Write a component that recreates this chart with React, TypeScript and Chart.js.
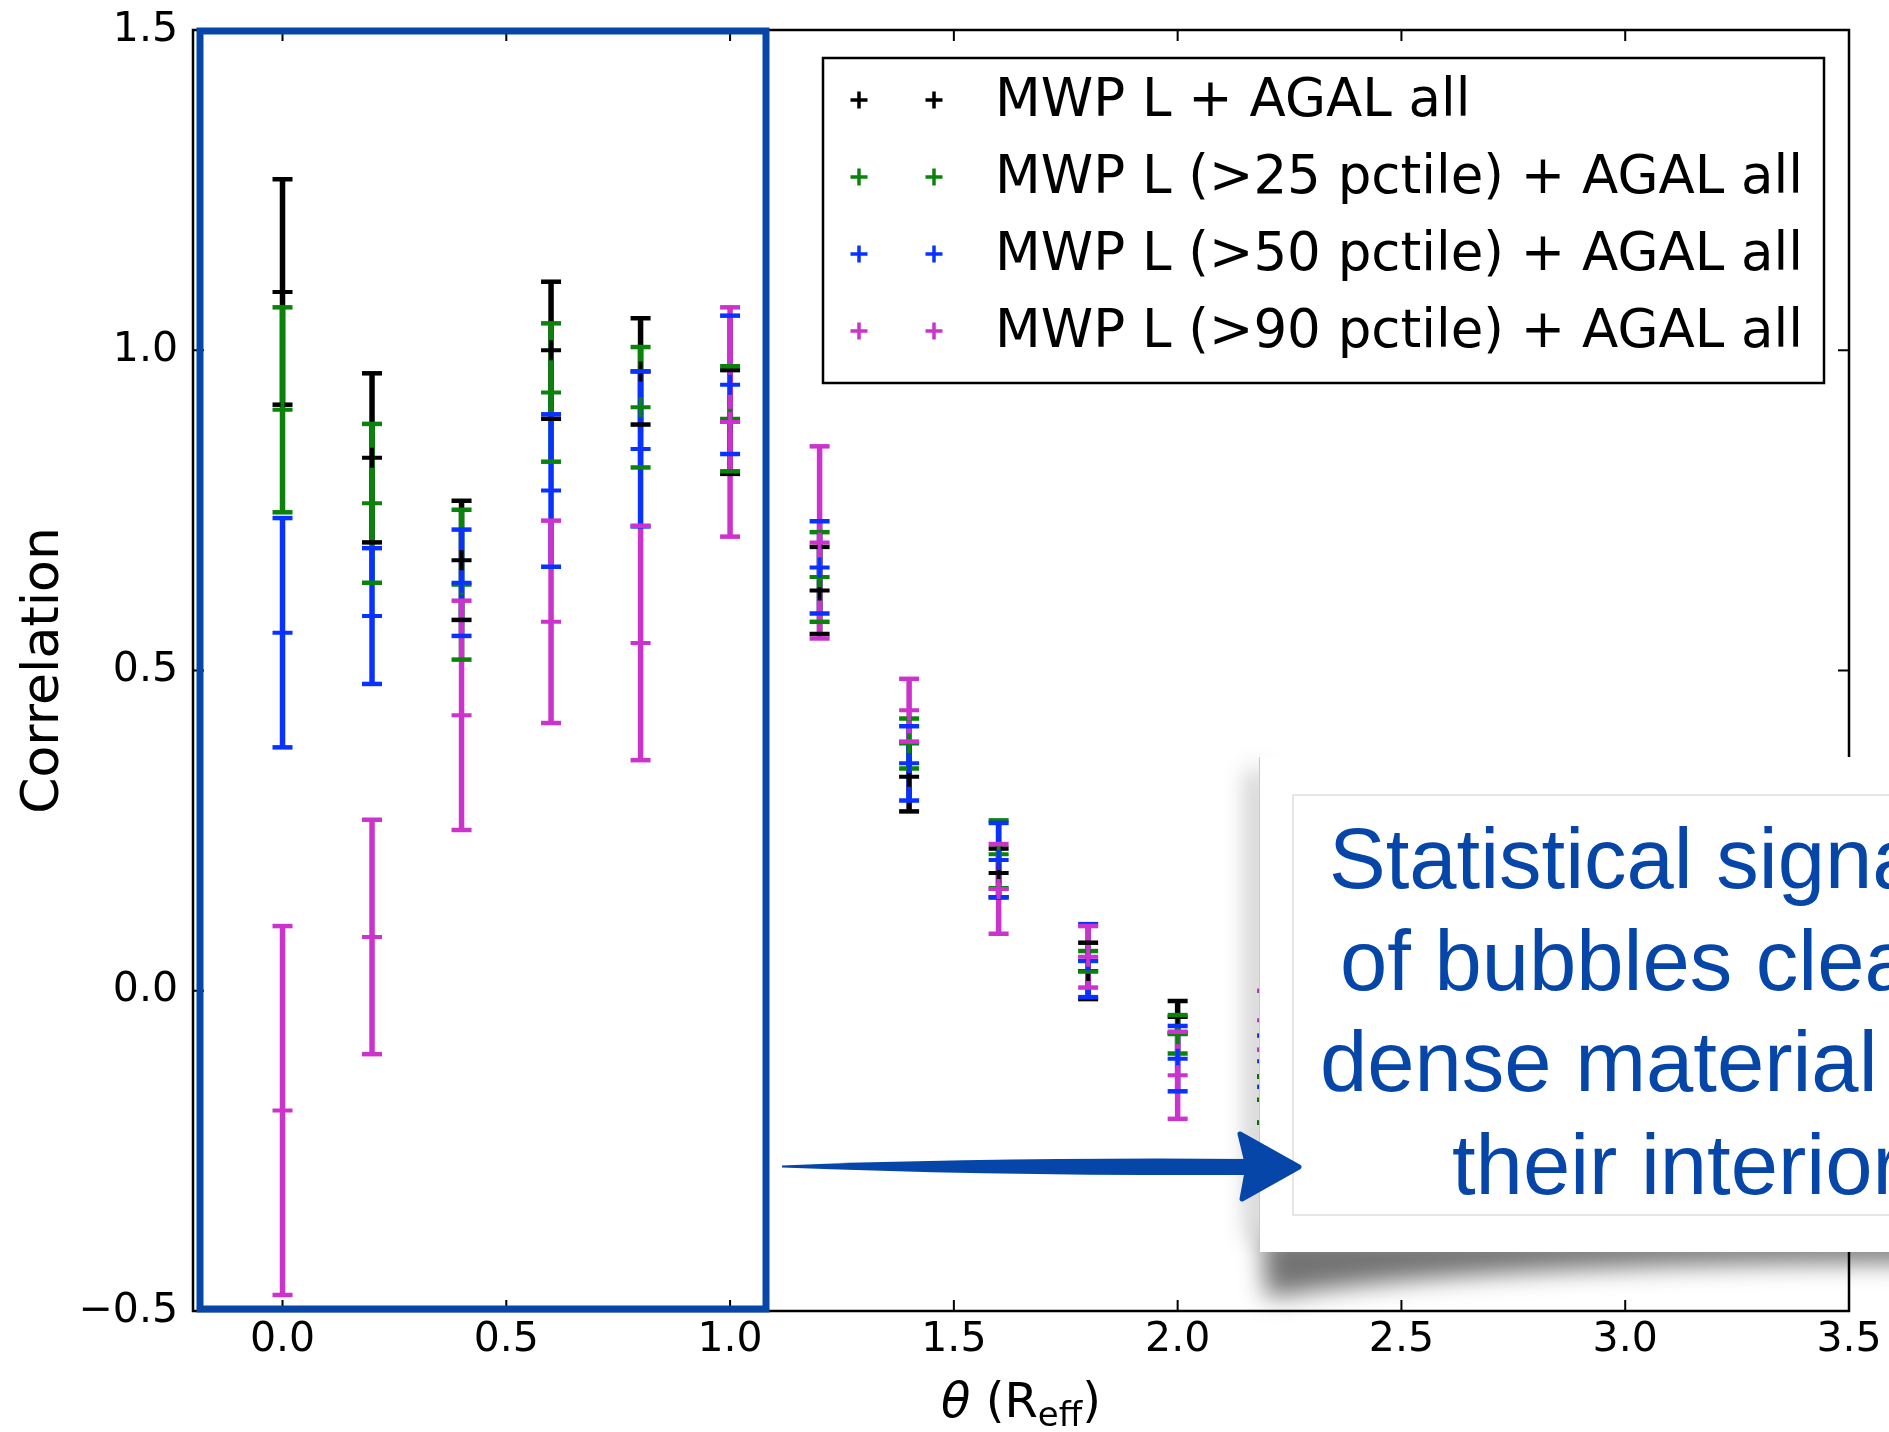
import React, { useEffect, useRef } from 'react';
import { Chart, registerables } from 'chart.js';

Chart.register(...registerables);

const W = 1889;
const H = 1432;

// ---- data ----
const theta = [0.0, 0.2, 0.4, 0.6, 0.8, 1.0, 1.2, 1.4, 1.6, 1.8, 2.0, 2.2];

const seriesNames = [
  'MWP L + AGAL all',
  'MWP L (>25 pctile) + AGAL all',
  'MWP L (>50 pctile) + AGAL all',
  'MWP L (>90 pctile) + AGAL all',
];
const seriesColors = ['#000000', '#0b820b', '#0a32ff', '#cc33cc'];

const corrAll = [1.091, 0.832, 0.672, 1.0, 0.967, 0.888, 0.625, 0.334, 0.184, 0.031, -0.041, -0.17];
const errAll = [0.176, 0.132, 0.093, 0.107, 0.083, 0.081, 0.068, 0.054, 0.038, 0.044, 0.025, 0.036];
const corrP25 = [0.907, 0.761, 0.634, 0.934, 0.911, 0.893, 0.646, 0.386, 0.213, 0.046, -0.068, -0.17];
const errP25 = [0.16, 0.124, 0.117, 0.108, 0.094, 0.082, 0.07, 0.039, 0.053, 0.016, 0.03, 0.036];
const corrP50 = [0.559, 0.585, 0.637, 0.781, 0.846, 0.946, 0.661, 0.355, 0.204, 0.047, -0.106, -0.11];
const errP50 = [0.179, 0.106, 0.083, 0.119, 0.121, 0.108, 0.072, 0.058, 0.058, 0.057, 0.051, 0.04];
const corrP90 = [-0.187, 0.084, 0.43, 0.576, 0.543, 0.888, 0.7, 0.438, 0.159, 0.053, -0.132, -0.046];
const errP90 = [0.288, 0.183, 0.179, 0.158, 0.183, 0.179, 0.15, 0.049, 0.07, 0.048, 0.068, 0.046];

const xTicks = [0.0, 0.5, 1.0, 1.5, 2.0, 2.5, 3.0, 3.5];
const yTicks = [-0.5, 0.0, 0.5, 1.0, 1.5];

const yTitle = 'Correlation';
const calloutLines = ['Statistical signature', 'of bubbles clearing', 'dense material from', 'their interior'];

const seriesValues = [corrAll, corrP25, corrP50, corrP90];
const seriesErrors = [errAll, errP25, errP50, errP90];

const fmt = (v: number) => {
  const a = Math.abs(v).toFixed(1);
  return v < -1e-9 ? '\u2212' + a : a;
};

const ANNOT_BLUE = '#0646a9';

const drawPlus = (ctx: CanvasRenderingContext2D, cx: number, cy: number, r: number) => {
  ctx.beginPath();
  ctx.moveTo(cx - r, cy);
  ctx.lineTo(cx + r, cy);
  ctx.moveTo(cx, cy - r);
  ctx.lineTo(cx, cy + r);
  ctx.stroke();
};

const clipArea = (ctx: CanvasRenderingContext2D, a: any) => {
  ctx.beginPath();
  ctx.rect(a.left, a.top, a.right - a.left, a.bottom - a.top);
  ctx.clip();
};

const errorBarPlugin = {
  id: 'errorBars',
  beforeDatasetsDraw(chart: any) {
    const { ctx, chartArea, scales } = chart;
    const xs = scales.x;
    const ys = scales.y;
    ctx.save();
    clipArea(ctx, chartArea);
    ctx.lineCap = 'butt';
    seriesValues.forEach((vals, s) => {
      ctx.strokeStyle = seriesColors[s];
      ctx.lineWidth = 5.5;
      theta.forEach((t, i) => {
        const px = xs.getPixelForValue(t);
        const y1 = ys.getPixelForValue(vals[i] + seriesErrors[s][i]);
        const y2 = ys.getPixelForValue(vals[i] - seriesErrors[s][i]);
        ctx.beginPath();
        ctx.moveTo(px, y1);
        ctx.lineTo(px, y2);
        ctx.stroke();
      });
    });
    ctx.restore();
  },
  afterDatasetDraw(chart: any, args: any) {
    const s = args.index;
    const vals = seriesValues[s];
    if (!vals) return;
    const { ctx, chartArea, scales } = chart;
    const xs = scales.x;
    const ys = scales.y;
    ctx.save();
    clipArea(ctx, chartArea);
    ctx.lineCap = 'butt';
    ctx.strokeStyle = seriesColors[s];
    ctx.lineWidth = 4.5;
    theta.forEach((t, i) => {
      const px = xs.getPixelForValue(t);
      [vals[i] + seriesErrors[s][i], vals[i] - seriesErrors[s][i]].forEach((v) => {
        const py = ys.getPixelForValue(v);
        ctx.beginPath();
        ctx.moveTo(px - 10, py);
        ctx.lineTo(px + 10, py);
        ctx.stroke();
      });
    });
    ctx.restore();
  },
};

const decorPlugin = {
  id: 'decor',
  afterDraw(chart: any) {
    const { ctx, chartArea, scales } = chart;
    const xs = scales.x;
    const ys = scales.y;
    const { left, right, top, bottom } = chartArea;
    ctx.save();

    // spines
    ctx.strokeStyle = '#000';
    ctx.lineWidth = 2.5;
    ctx.strokeRect(left, top, right - left, bottom - top);

    // inward ticks on all sides
    ctx.lineWidth = 2;
    const tl = 11;
    xTicks.forEach((v) => {
      const px = xs.getPixelForValue(v);
      ctx.beginPath();
      ctx.moveTo(px, bottom);
      ctx.lineTo(px, bottom - tl);
      ctx.moveTo(px, top);
      ctx.lineTo(px, top + tl);
      ctx.stroke();
    });
    yTicks.forEach((v) => {
      const py = ys.getPixelForValue(v);
      ctx.beginPath();
      ctx.moveTo(left, py);
      ctx.lineTo(left + tl, py);
      ctx.moveTo(right, py);
      ctx.lineTo(right - tl, py);
      ctx.stroke();
    });

    // y title
    ctx.save();
    ctx.translate(58, (top + bottom) / 2);
    ctx.rotate(-Math.PI / 2);
    ctx.fillStyle = '#000';
    ctx.font = '52px "DejaVu Sans"';
    ctx.textAlign = 'center';
    ctx.textBaseline = 'alphabetic';
    ctx.fillText(yTitle, 0, 0);
    ctx.restore();

    // x title: θ (R_eff)
    {
      const base = 1417;
      const big = '48px "DejaVu Sans"';
      const ital = 'italic 48px "DejaVu Sans"';
      const small = '34px "DejaVu Sans"';
      const parts = [
        { t: '\u03B8', f: ital, dy: 0 },
        { t: ' (R', f: big, dy: 0 },
        { t: 'eff', f: small, dy: 9 },
        { t: ')', f: big, dy: 0 },
      ];
      let total = 0;
      parts.forEach((p) => {
        ctx.font = p.f;
        total += ctx.measureText(p.t).width;
      });
      let cx = (left + right) / 2 - total / 2;
      ctx.fillStyle = '#000';
      ctx.textAlign = 'left';
      ctx.textBaseline = 'alphabetic';
      parts.forEach((p) => {
        ctx.font = p.f;
        ctx.fillText(p.t, cx, base + p.dy);
        cx += ctx.measureText(p.t).width;
      });
    }

    // legend
    {
      const lx = 823, ly = 58, lw = 1001, lh = 325;
      ctx.fillStyle = '#fff';
      ctx.fillRect(lx, ly, lw, lh);
      ctx.strokeStyle = '#000';
      ctx.lineWidth = 2.5;
      ctx.strokeRect(lx, ly, lw, lh);
      seriesNames.forEach((name, i) => {
        const cy = 100 + 77 * i;
        ctx.strokeStyle = seriesColors[i];
        ctx.lineWidth = 3.5;
        drawPlus(ctx, 859, cy, 8.5);
        drawPlus(ctx, 934, cy, 8.5);
        ctx.fillStyle = '#000';
        ctx.font = '53px "DejaVu Sans"';
        ctx.textAlign = 'left';
        ctx.textBaseline = 'middle';
        ctx.fillText(name, 995, cy + 2);
      });
    }

    // highlight rectangle
    ctx.strokeStyle = ANNOT_BLUE;
    ctx.lineWidth = 7;
    ctx.strokeRect(200, 31, 566, 1278);

    // callout shadow
    ctx.save();
    ctx.filter = 'blur(12px)';
    ctx.fillStyle = 'rgba(0,0,0,0.55)';
    ctx.beginPath();
    ctx.moveTo(1262, 1235);
    ctx.lineTo(W + 40, 1235);
    ctx.lineTo(W + 40, 1262);
    ctx.quadraticCurveTo(1480, 1262, 1266, 1298);
    ctx.closePath();
    ctx.fill();
    ctx.fillStyle = 'rgba(0,0,0,0.35)';
    ctx.fillRect(1250, 770, 12, 470);
    ctx.restore();

    // callout box
    ctx.fillStyle = '#ffffff';
    ctx.fillRect(1259, 757, W - 1259 + 10, 495);
    ctx.strokeStyle = '#c8c8c8';
    ctx.lineWidth = 1;
    ctx.beginPath();
    ctx.moveTo(1259.5, 757);
    ctx.lineTo(1259.5, 1252);
    ctx.stroke();
    ctx.strokeStyle = '#dedede';
    ctx.lineWidth = 1.5;
    ctx.strokeRect(1293, 795, W - 1293 + 20, 420);

    // callout text
    ctx.fillStyle = ANNOT_BLUE;
    ctx.font = '85px "Liberation Sans"';
    ctx.textAlign = 'left';
    ctx.textBaseline = 'alphabetic';
    const lineX = [1329, 1340, 1320, 1452];
    const lineY = [888, 990, 1091, 1194];
    calloutLines.forEach((txt, i) => ctx.fillText(txt, lineX[i], lineY[i]));

    // arrow (on top of the callout)
    ctx.fillStyle = ANNOT_BLUE;
    ctx.beginPath();
    ctx.moveTo(782, 1165.5);
    ctx.quadraticCurveTo(1000, 1157, 1250, 1159);
    ctx.lineTo(1250, 1175);
    ctx.quadraticCurveTo(1000, 1176, 782, 1167.5);
    ctx.closePath();
    ctx.fill();
    ctx.lineJoin = 'round';
    ctx.strokeStyle = ANNOT_BLUE;
    ctx.lineWidth = 5;
    ctx.beginPath();
    ctx.moveTo(1240, 1134);
    ctx.lineTo(1299, 1167);
    ctx.lineTo(1242, 1199);
    ctx.lineTo(1248, 1167);
    ctx.closePath();
    ctx.fill();
    ctx.stroke();

    ctx.restore();
  },
};

export default function App() {
  const canvasRef = useRef<HTMLCanvasElement | null>(null);

  useEffect(() => {
    const canvas = canvasRef.current;
    if (!canvas) return;
    const datasets = seriesValues.map((vals, s) => ({
      label: seriesNames[s],
      data: theta.map((t, i) => ({ x: t, y: vals[i] })),
      showLine: false,
      pointStyle: 'cross' as const,
      pointRadius: 10,
      pointHoverRadius: 10,
      pointBorderWidth: 4,
      pointBorderColor: seriesColors[s],
      pointBackgroundColor: seriesColors[s],
      order: 3 - s,
    }));

    const tickFont = { family: 'DejaVu Sans', size: 41 };

    const chart = new Chart(canvas, {
      type: 'scatter',
      data: { datasets },
      plugins: [errorBarPlugin, decorPlugin],
      options: {
        animation: false,
        responsive: false,
        devicePixelRatio: 1,
        events: [],
        layout: { padding: { left: 0, top: 30, right: 40, bottom: 0 } },
        plugins: { legend: { display: false }, tooltip: { enabled: false } },
        scales: {
          x: {
            type: 'linear',
            min: -0.2,
            max: 3.5,
            afterBuildTicks: (s: any) => {
              s.ticks = xTicks.map((v) => ({ value: v }));
            },
            afterFit: (s: any) => {
              s.height = H - 1311;
              s.paddingLeft = 0;
              s.paddingRight = 0;
              s.paddingTop = 0;
              s.paddingBottom = 0;
            },
            grid: { display: false, drawTicks: false },
            border: { display: false },
            ticks: {
              font: tickFont,
              color: '#000',
              padding: 5,
              maxRotation: 0,
              autoSkip: false,
              callback: (v: any) => fmt(Number(v)),
            },
          },
          y: {
            type: 'linear',
            min: -0.5,
            max: 1.5,
            afterBuildTicks: (s: any) => {
              s.ticks = yTicks.map((v) => ({ value: v }));
            },
            afterFit: (s: any) => {
              s.width = 193;
              s.paddingLeft = 0;
              s.paddingRight = 0;
              s.paddingTop = 0;
              s.paddingBottom = 0;
            },
            grid: { display: false, drawTicks: false },
            border: { display: false },
            ticks: {
              font: tickFont,
              color: '#000',
              padding: 15,
              autoSkip: false,
              callback: (v: any) => fmt(Number(v)),
            },
          },
        },
      },
    });
    return () => chart.destroy();
  }, []);

  return (
    <div style={{ position: 'absolute', left: 0, top: 0, width: W, height: H, background: '#fff', overflow: 'hidden' }}>
      <canvas ref={canvasRef} width={W} height={H} style={{ display: 'block', width: W, height: H }} />
    </div>
  );
}
